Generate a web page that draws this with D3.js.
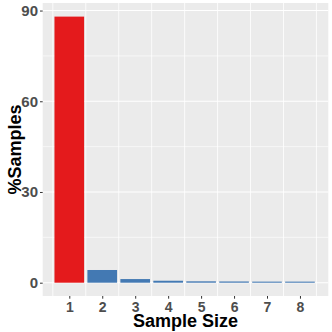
<!DOCTYPE html>
<html>
<head>
<meta charset="utf-8">
<script src="https://d3js.org/d3.v7.min.js"></script>
<style>
  body { margin: 0; background: #fff; }
  text { font-family: "Liberation Sans", Arial, sans-serif; }
</style>
</head>
<body>
<svg width="332" height="332"></svg>
<script>
// sample sizes and percent of samples
var sizes = [1, 2, 3, 4, 5, 6, 7, 8];
var pct = [88, 4.2, 1.2, 0.65, 0.45, 0.4, 0.35, 0.35];
var yTicks = [0, 30, 60, 90];
var yMinor = [15, 45, 75];

var svg = d3.select("svg");
var pLeft = 42.7, pTop = 3, pRight = 328.3, pBottom = 296;

var x = d3.scaleLinear().domain([0.193, 8.86]).range([pLeft, pRight]);
var y = d3.scaleLinear().domain([-4.4, 92.5]).range([pBottom, pTop]);

svg.append("rect")
  .attr("x", pLeft).attr("y", pTop)
  .attr("width", pRight - pLeft).attr("height", pBottom - pTop)
  .attr("fill", "#ebebeb");

// minor grid
svg.selectAll(".ymin").data(yMinor).enter().append("line")
  .attr("x1", pLeft).attr("x2", pRight)
  .attr("y1", function(d) { return y(d); }).attr("y2", function(d) { return y(d); })
  .attr("stroke", "#fff").attr("stroke-width", 0.6);
svg.selectAll(".xmin").data(d3.range(0.5, 9, 1)).enter().append("line")
  .attr("y1", pTop).attr("y2", pBottom)
  .attr("x1", function(d) { return x(d); }).attr("x2", function(d) { return x(d); })
  .attr("stroke", "#fff").attr("stroke-width", 0.8);
// major grid
svg.selectAll(".ymaj").data(yTicks).enter().append("line")
  .attr("x1", pLeft).attr("x2", pRight)
  .attr("y1", function(d) { return y(d); }).attr("y2", function(d) { return y(d); })
  .attr("stroke", "#fff").attr("stroke-width", 1.1);

// bars
svg.selectAll(".bar").data(sizes).enter().append("rect")
  .attr("x", function(d) { return x(d - 0.45); })
  .attr("width", x(0.9) - x(0))
  .attr("y", function(d, i) { return y(pct[i]); })
  .attr("height", function(d, i) { return y(0) - y(pct[i]); })
  .attr("fill", function(d, i) { return i == 0 ? "#e41a1c" : "#4379b3"; });

// axes
var yAxis = svg.append("g")
  .attr("transform", "translate(" + pLeft + ",0)")
  .call(d3.axisLeft(y).tickValues(yTicks).tickSize(2.7).tickPadding(2));
var xAxis = svg.append("g")
  .attr("transform", "translate(0," + pBottom + ")")
  .call(d3.axisBottom(x).tickValues(sizes).tickSize(2.7).tickPadding(3));
svg.selectAll(".domain").remove();
svg.selectAll(".tick line").attr("stroke", "#333");
yAxis.selectAll("text").style("font-size", "15px").style("font-weight", "bold").attr("fill", "#4d4d4d");
xAxis.selectAll("text").style("font-size", "14px").style("font-weight", "bold").attr("fill", "#4d4d4d");

svg.append("text")
  .attr("x", (pLeft + pRight) / 2).attr("y", 327)
  .attr("text-anchor", "middle")
  .style("font-size", "18px").style("font-weight", "bold")
  .text("Sample Size");

svg.append("text")
  .attr("transform", "translate(21," + ((pTop + pBottom) / 2) + ") rotate(-90)")
  .attr("text-anchor", "middle")
  .style("font-size", "18px").style("font-weight", "bold")
  .text("%Samples");
</script>
</body>
</html>
